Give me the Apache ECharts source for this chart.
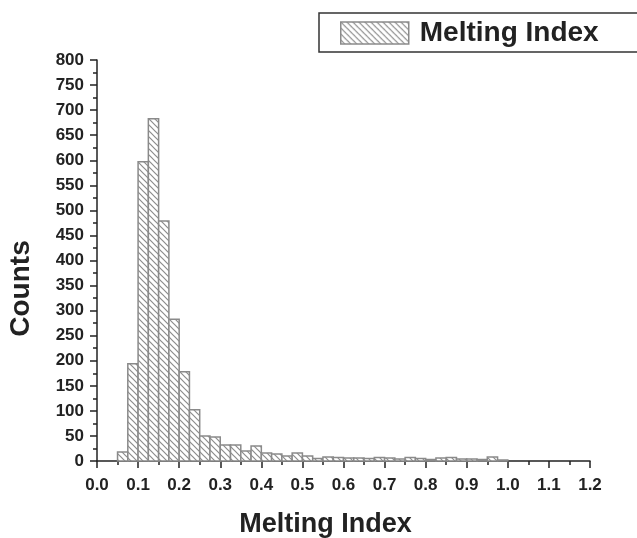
<!DOCTYPE html>
<html>
<head>
<meta charset="utf-8">
<script src="https://cdn.jsdelivr.net/npm/echarts@6/dist/echarts.min.js"></script>
<style>html,body{margin:0;padding:0;background:#fff;}#c{width:637px;height:538px;}</style>
</head>
<body>
<div id="c"></div>
<script>
// Histogram bins (left edges), bin width, and counts
const binStarts = [0.05,0.075,0.1,0.125,0.15,0.175,0.2,0.225,0.25,0.275,0.3,0.325,0.35,0.375,0.4,0.425,0.45,0.475,0.5,0.525,0.55,0.575,0.6,0.625,0.65,0.675,0.7,0.725,0.75,0.775,0.8,0.825,0.85,0.875,0.9,0.925,0.95,0.975];
const binWidth = 0.025;
const counts = [18,194,597,683,479,283,178,102,50,48,32,32,20,30,16,14,10,16,10,5,8,7,6,6,5,7,6,4,7,5,3,6,7,4,4,3,8,2];
const seriesName = 'Melting Index';
const xTitle = 'Melting Index';
const yTitle = 'Counts';

function makeHatch(){
  const s = 6;
  const c = document.createElement('canvas');
  c.width = s; c.height = s;
  const g = c.getContext('2d');
  g.fillStyle = '#fff'; g.fillRect(0,0,s,s);
  g.strokeStyle = '#8c8c8c'; g.lineWidth = 1.2;
  g.beginPath();
  g.moveTo(-1,-1); g.lineTo(s+1,s+1);
  g.moveTo(-1,s-1); g.lineTo(1,s+1);
  g.moveTo(s-1,-1); g.lineTo(s+1,1);
  g.stroke();
  return c;
}
const hatch = {image: makeHatch(), repeat: 'repeat'};

const data = binStarts.map((b,i)=>[b, b+binWidth, counts[i]]);

const chart = echarts.init(document.getElementById('c'), null, {renderer:'canvas'});
const font = 'Liberation Sans, Arial, sans-serif';
chart.setOption({
  animation:false,
  backgroundColor:'#fff',
  grid:{left:97, right:47, top:60, bottom:77, containLabel:false, outerBoundsMode:'none'},
  legend:{
    left:340, top:19, itemWidth:68, itemHeight:22, padding:0,
    data:[{name:seriesName, icon:'rect', itemStyle:{color:hatch, borderColor:'#8a8a8a', borderWidth:1.5}}],
    textStyle:{fontFamily:font, fontWeight:'bold', fontSize:28, color:'#222', padding:[0,0,0,6]}
  },
  graphic:[{type:'rect', shape:{x:319, y:13, width:340, height:39}, style:{fill:'none', stroke:'#333', lineWidth:1.5}, z:-1}],
  xAxis:{
    type:'value', min:0, max:1.2, interval:0.1,
    name:xTitle, nameLocation:'middle', nameGap:50,
    nameTextStyle:{fontFamily:font, fontWeight:'bold', fontSize:27, color:'#222', padding:[0,36,0,0]},
    axisLine:{show:true, lineStyle:{color:'#222', width:1.5}},
    axisTick:{show:true, inside:false, length:7, lineStyle:{color:'#222', width:1.5}},
    minorTick:{show:true, splitNumber:2, length:4, lineStyle:{color:'#222', width:1.5}},
    splitLine:{show:false},
    axisLabel:{fontFamily:font, fontWeight:'bold', fontSize:17, color:'#222', margin:16, formatter:v=>v.toFixed(1)}
  },
  yAxis:{
    type:'value', min:0, max:800, interval:50,
    name:yTitle, nameLocation:'middle', nameGap:62, nameRotate:90,
    nameTextStyle:{fontFamily:font, fontWeight:'bold', fontSize:28, color:'#222', padding:[0,56,0,0]},
    axisLine:{show:true, lineStyle:{color:'#222', width:1.5}},
    axisTick:{show:true, inside:false, length:7, lineStyle:{color:'#222', width:1.5}},
    minorTick:{show:true, splitNumber:2, length:4, lineStyle:{color:'#222', width:1.5}},
    splitLine:{show:false},
    axisLabel:{fontFamily:font, fontWeight:'bold', fontSize:17, color:'#222', margin:13}
  },
  series:[{
    type:'custom', name:seriesName,
    itemStyle:{color:hatch, borderColor:'#8a8a8a'},
    encode:{x:[0,1], y:2},
    data:data,
    renderItem:function(params, api){
      const p0 = api.coord([api.value(0), api.value(2)]);
      const p1 = api.coord([api.value(1), 0]);
      return {type:'rect', shape:{x:p0[0], y:p0[1], width:p1[0]-p0[0], height:p1[1]-p0[1]},
        style:{fill:hatch, stroke:'#8a8a8a', lineWidth:1.5}};
    }
  }]
});
</script>
</body>
</html>
